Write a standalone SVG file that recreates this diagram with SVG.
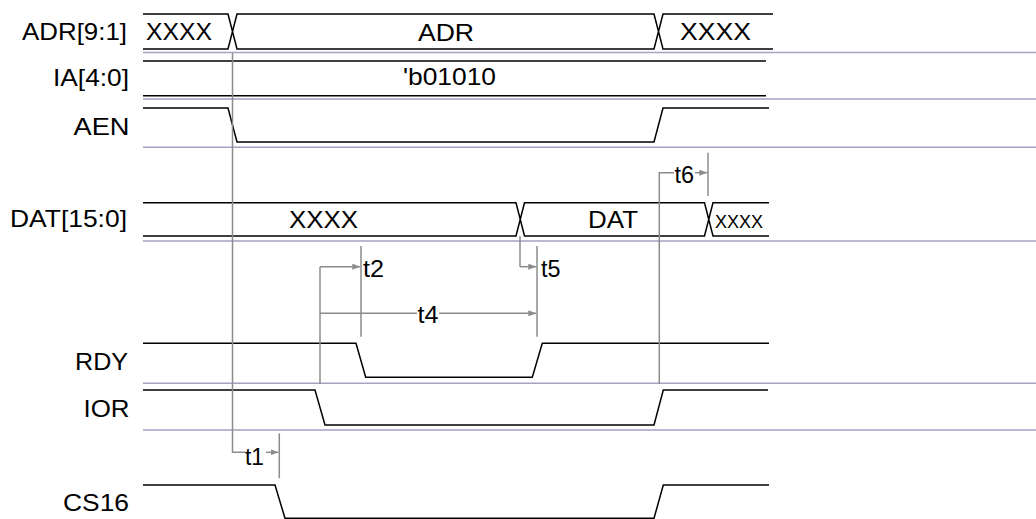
<svg xmlns="http://www.w3.org/2000/svg" width="1036" height="519" viewBox="0 0 1036 519">
<style>
.lbl{font-family:"Liberation Sans",Arial,sans-serif;font-size:24px;fill:#000}
.tl{font-family:"Liberation Sans",Arial,sans-serif;font-size:24px;fill:#000}
.sm{font-family:"Liberation Sans",Arial,sans-serif;font-size:18.5px;fill:#000}
.sig{fill:none;stroke:#000;stroke-width:1.5}
.sep{fill:none;stroke:#a3a3c2;stroke-width:1.5}
.dim{fill:none;stroke:#8c8c8c;stroke-width:1.5}
.arr{fill:none;stroke:#8c8c8c;stroke-width:1.5;marker-end:url(#ah)}
</style>
<defs>
<marker id="ah" viewBox="0 0 10 10" refX="10" refY="5" markerWidth="8" markerHeight="6" markerUnits="userSpaceOnUse" orient="auto" preserveAspectRatio="none">
<path d="M0,0 L10,5 L0,10 z" fill="#8c8c8c"/>
</marker>
</defs>
<rect width="1036" height="519" fill="#fff"/>
<g id="separators">
<path class="sep" d="M143,52.5H1036M143,99H1036M143,147.3H1036M143,241H1036M143,383.3H1036M143,430H1036"/>
</g>
<g id="ADR">
<text class="lbl" x="22" y="40" textLength="105" lengthAdjust="spacingAndGlyphs">ADR[9:1]</text>
<path class="sig" d="M143,14H228L237,49H654L663,14H773M143,49H228L237,14H654L663,49H773"/>
<text class="lbl" x="146" y="40" textLength="66" lengthAdjust="spacingAndGlyphs">XXXX</text>
<text class="lbl" x="418" y="40.5" textLength="56" lengthAdjust="spacingAndGlyphs">ADR</text>
<text class="lbl" x="680" y="40" textLength="71" lengthAdjust="spacingAndGlyphs">XXXX</text>
</g>
<g id="IA">
<text class="lbl" x="53" y="86" textLength="76" lengthAdjust="spacingAndGlyphs">IA[4:0]</text>
<path class="sig" d="M143,61H766M143,95.7H766"/>
<text class="lbl" x="403" y="85" textLength="93" lengthAdjust="spacingAndGlyphs">'b01010</text>
</g>
<g id="AEN">
<text class="lbl" x="73.5" y="134.5" textLength="56" lengthAdjust="spacingAndGlyphs">AEN</text>
<path class="sig" d="M143,108H228L237,142H654L663,108H769"/>
</g>
<g id="DAT">
<text class="lbl" x="10" y="227" textLength="117" lengthAdjust="spacingAndGlyphs">DAT[15:0]</text>
<path class="sig" d="M143,202.7H516L524.5,236H704.5L713,202.7H769M143,236H516L524.5,202.7H704.5L713,236H769"/>
<text class="lbl" x="289" y="228" textLength="69" lengthAdjust="spacingAndGlyphs">XXXX</text>
<text class="lbl" x="588" y="228.3" textLength="50" lengthAdjust="spacingAndGlyphs">DAT</text>
<text class="sm" x="715" y="228" textLength="48" lengthAdjust="spacingAndGlyphs">XXXX</text>
</g>
<g id="RDY">
<text class="lbl" x="75" y="369.5" textLength="53" lengthAdjust="spacingAndGlyphs">RDY</text>
<path class="sig" d="M143,343.3H356L365.7,377.3H532.3L542.3,343.3H769"/>
</g>
<g id="IOR">
<text class="lbl" x="83.5" y="416.5" textLength="46" lengthAdjust="spacingAndGlyphs">IOR</text>
<path class="sig" d="M143,390H315L325,425H654L663.3,390H768"/>
</g>
<g id="CS16">
<text class="lbl" x="63" y="511" textLength="66" lengthAdjust="spacingAndGlyphs">CS16</text>
<path class="sig" d="M143,485H275L285,518.3H654L663.3,485H769"/>
</g>
<g id="connectors">
<path class="dim" d="M232.5,53V452.3H245"/>
<path class="arr" d="M266,452.3H278.5"/>
<path class="dim" d="M279.3,433.3V478.3"/>
<text class="tl" x="245" y="465" textLength="19" lengthAdjust="spacingAndGlyphs">t1</text>
<path class="dim" d="M320,384V266.7"/>
<path class="arr" d="M320,266.7H360.3"/>
<path class="dim" d="M361,246V336.7"/>
<text class="tl" x="363" y="276.5" textLength="21" lengthAdjust="spacingAndGlyphs">t2</text>
<path class="dim" d="M320,313.3H417"/>
<path class="arr" d="M439,313.3H536.3"/>
<text class="tl" x="417.5" y="323.3" textLength="21" lengthAdjust="spacingAndGlyphs">t4</text>
<path class="dim" d="M520,236V266.7"/>
<path class="arr" d="M520,266.7H536.3"/>
<path class="dim" d="M537,246V336.7"/>
<text class="tl" x="541" y="276.5" textLength="19.5" lengthAdjust="spacingAndGlyphs">t5</text>
<path class="dim" d="M659.3,384V172.7H674"/>
<path class="arr" d="M695,172.7H707.3"/>
<path class="dim" d="M708,152.7V196"/>
<text class="tl" x="674.5" y="183.3" textLength="19.5" lengthAdjust="spacingAndGlyphs">t6</text>
</g>
</svg>
